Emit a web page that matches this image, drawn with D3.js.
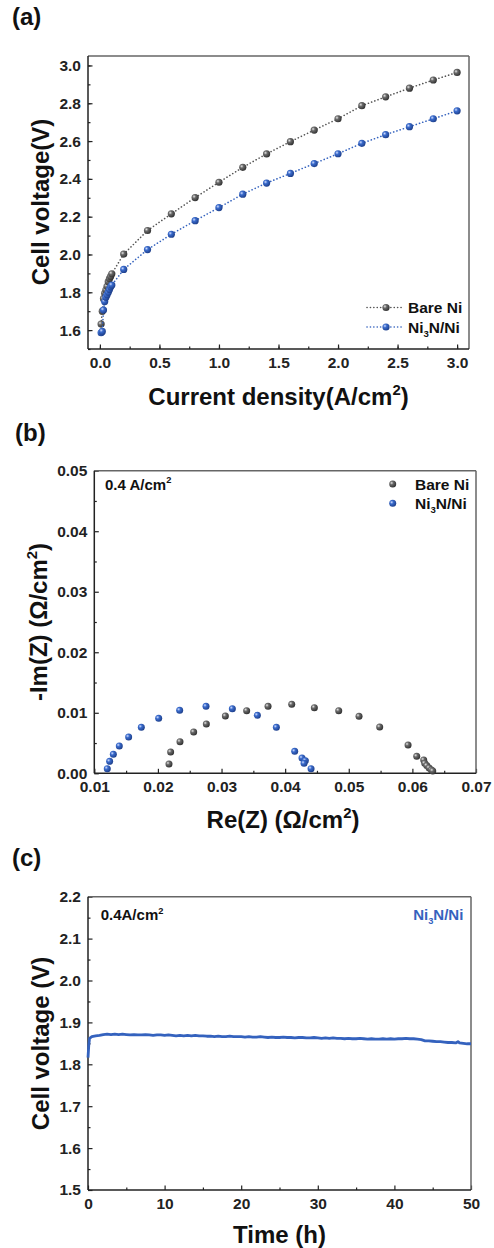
<!DOCTYPE html>
<html>
<head>
<meta charset="utf-8">
<script src="https://cdn.jsdelivr.net/npm/d3@7"></script>
<style>
  body { margin: 0; background: #fff; }
  svg { display: block; font-family: "Liberation Sans", Arial, sans-serif; font-weight: bold; }
  .tick text { font-size: 15.5px; font-weight: bold; fill: #222; }
  .tick line { stroke: #222; stroke-width: 1.2; }
</style>
</head>
<body>
<div id="vis"></div>
<script>
// ---- data (a) polarization curves
const CURRENT = [0.01, 0.02, 0.03, 0.04, 0.05, 0.06, 0.07, 0.08, 0.09, 0.1,
                 0.2, 0.4, 0.6, 0.8, 1.0, 1.2, 1.4, 1.6, 1.8, 2.0, 2.2, 2.4, 2.6, 2.8, 3.0];
const BARE_V = [1.632, 1.700, 1.766, 1.795, 1.812, 1.832, 1.856, 1.872, 1.884, 1.898,
                2.002, 2.127, 2.215, 2.301, 2.382, 2.461, 2.532, 2.597, 2.658, 2.718, 2.787, 2.834, 2.880, 2.923, 2.963];
const NI3N_V = [1.586, 1.593, 1.706, 1.751, 1.774, 1.787, 1.800, 1.815, 1.829, 1.838,
                1.921, 2.026, 2.107, 2.179, 2.248, 2.319, 2.378, 2.429, 2.481, 2.533, 2.588, 2.634, 2.676, 2.718, 2.760];

// ---- data (b) impedance at 0.4 A/cm2
const EIS_BARE_RE = [0.02174, 0.02200, 0.02347, 0.02562, 0.02761, 0.03060, 0.03395, 0.03731, 0.04103, 0.04459,
                     0.04842, 0.05161, 0.05486, 0.05932, 0.06068, 0.06178, 0.06194, 0.06226, 0.06263, 0.06299, 0.06320];
const EIS_BARE_IM = [0.00154, 0.00352, 0.00523, 0.00683, 0.00815, 0.00947, 0.01035, 0.01107, 0.01140, 0.01085,
                     0.01035, 0.00942, 0.00765, 0.00468, 0.00281, 0.00220, 0.00165, 0.00127, 0.00088, 0.00055, 0.00039];
const EIS_NI3N_RE = [0.01204, 0.01241, 0.01299, 0.01393, 0.01540, 0.01739, 0.02012, 0.02342, 0.02756, 0.03170,
                     0.03563, 0.03862, 0.04150, 0.04265, 0.04318, 0.04297, 0.04407];
const EIS_NI3N_IM = [0.00077, 0.00198, 0.00314, 0.00452, 0.00600, 0.00760, 0.00909, 0.01041, 0.01107, 0.01068,
                     0.00958, 0.00760, 0.00363, 0.00253, 0.00209, 0.00165, 0.00077];

// ---- data (c) stability test
const TIME_H = [0, 0.1, 0.2, 0.5, 1.0, 1.5, 2.0, 2.5, 3.0, 3.5, 4.0, 4.5, 5.0, 5.5, 6.0, 6.5, 7.0, 7.5, 8.0, 8.5, 9.0, 9.5,
  10.0, 10.5, 11.0, 11.5, 12.0, 12.5, 13.0, 13.5, 14.0, 14.5, 15.0, 15.5, 16.0, 16.5, 17.0, 17.5, 18.0, 18.5, 19.0, 19.5,
  20.0, 20.5, 21.0, 21.5, 22.0, 22.5, 23.0, 23.5, 24.0, 24.5, 25.0, 25.5, 26.0, 26.5, 27.0, 27.5, 28.0, 28.5, 29.0, 29.5,
  30.0, 30.5, 31.0, 31.5, 32.0, 32.5, 33.0, 33.5, 34.0, 34.5, 35.0, 35.5, 36.0, 36.5, 37.0, 37.5, 38.0, 38.5, 39.0, 39.5,
  40.0, 40.5, 41.0, 41.5, 42.0, 42.5, 43.0, 43.5, 44.0, 44.5, 45.0, 45.5, 46.0, 46.5, 47.0, 47.5, 48.0, 48.3, 48.5, 49.0, 49.5, 50.0];
const STAB_V = [1.816, 1.845, 1.862, 1.866, 1.868, 1.869, 1.871, 1.872, 1.871, 1.872, 1.871, 1.872, 1.871, 1.870, 1.871, 1.870, 1.870, 1.871, 1.870, 1.869, 1.870, 1.870,
  1.869, 1.870, 1.869, 1.868, 1.869, 1.868, 1.869, 1.868, 1.869, 1.868, 1.868, 1.867, 1.867, 1.866, 1.867, 1.866, 1.866, 1.867, 1.866, 1.866,
  1.866, 1.865, 1.866, 1.865, 1.865, 1.866, 1.865, 1.864, 1.865, 1.864, 1.864, 1.865, 1.864, 1.864, 1.863, 1.864, 1.864, 1.863, 1.863, 1.864,
  1.863, 1.862, 1.863, 1.862, 1.863, 1.862, 1.862, 1.861, 1.862, 1.861, 1.861, 1.862, 1.861, 1.860, 1.861, 1.860, 1.860, 1.861, 1.860, 1.861,
  1.860, 1.861, 1.861, 1.862, 1.861, 1.861, 1.860, 1.859, 1.856, 1.856, 1.855, 1.854, 1.854, 1.853, 1.852, 1.852, 1.851, 1.854, 1.851, 1.850, 1.849, 1.849];

const TICKS_A_X = [0.0, 0.5, 1.0, 1.5, 2.0, 2.5, 3.0];
const TICKS_A_Y = [1.6, 1.8, 2.0, 2.2, 2.4, 2.6, 2.8, 3.0];
const TICKS_B_X = [0.01, 0.02, 0.03, 0.04, 0.05, 0.06, 0.07];
const TICKS_B_Y = [0.00, 0.01, 0.02, 0.03, 0.04, 0.05];
const TICKS_C_X = [0, 10, 20, 30, 40, 50];
const TICKS_C_Y = [1.5, 1.6, 1.7, 1.8, 1.9, 2.0, 2.1, 2.2];

const GREY = "#555555";
const BLUE = "#3462be";

const svg = d3.select("#vis").append("svg")
  .attr("width", 494)
  .attr("height", 1248);

// sphere-like gradients for the markers
const defs = svg.append("defs");
function sphere(id, light, mid, dark) {
  const g = defs.append("radialGradient").attr("id", id)
    .attr("cx", "35%").attr("cy", "35%").attr("r", "70%");
  g.append("stop").attr("offset", "0%").attr("stop-color", light);
  g.append("stop").attr("offset", "35%").attr("stop-color", mid);
  g.append("stop").attr("offset", "100%").attr("stop-color", dark);
}
sphere("ballGrey", "#e6e6e6", "#6a6a6a", "#2e2e2e");
sphere("ballBlue", "#d0ddff", "#3a6bcc", "#1c3d88");

// draws frame + inward major/minor ticks, returns scales
function panel(box, xDom, yDom, xTicks, yTicks, xMinor, yMinor, xFmt, yFmt) {
  const x = d3.scaleLinear().domain(xDom).range([box.left, box.right]);
  const y = d3.scaleLinear().domain(yDom).range([box.bottom, box.top]);

  svg.append("g")
    .attr("transform", "translate(0," + box.bottom + ")")
    .call(d3.axisBottom(x).tickValues(xMinor).tickSize(-2.5).tickFormat(""))
    .call(g => g.select(".domain").remove());
  svg.append("g")
    .attr("transform", "translate(" + box.left + ",0)")
    .call(d3.axisLeft(y).tickValues(yMinor).tickSize(-2.5).tickFormat(""))
    .call(g => g.select(".domain").remove());

  svg.append("g")
    .attr("transform", "translate(0," + box.bottom + ")")
    .call(d3.axisBottom(x).tickValues(xTicks).tickSize(-4.5).tickPadding(8).tickFormat(xFmt))
    .call(g => g.select(".domain").remove())
    .attr("font-family", null).attr("font-size", null);
  svg.append("g")
    .attr("transform", "translate(" + box.left + ",0)")
    .call(d3.axisLeft(y).tickValues(yTicks).tickSize(-4.5).tickPadding(7).tickFormat(yFmt))
    .call(g => g.select(".domain").remove())
    .attr("font-family", null).attr("font-size", null);

  // frame: darker left/bottom, lighter top/right
  svg.append("line").attr("x1", box.left).attr("x2", box.right).attr("y1", box.top).attr("y2", box.top)
    .attr("stroke", "#666").attr("stroke-width", 1.5);
  svg.append("line").attr("x1", box.right).attr("x2", box.right).attr("y1", box.top).attr("y2", box.bottom)
    .attr("stroke", "#666").attr("stroke-width", 1.5);
  svg.append("line").attr("x1", box.left).attr("x2", box.right).attr("y1", box.bottom).attr("y2", box.bottom)
    .attr("stroke", "#222").attr("stroke-width", 1.5);
  svg.append("line").attr("x1", box.left).attr("x2", box.left).attr("y1", box.top).attr("y2", box.bottom)
    .attr("stroke", "#222").attr("stroke-width", 1.5);
  return {x, y};
}

function label(txt, x, y) {
  svg.append("text").attr("x", x).attr("y", y)
    .style("font-size", "24px").attr("fill", "#111").text(txt);
}

// rich text: parts = [[text, "n"|"sup"|"sub"], ...]
function rich(parent, parts, size) {
  let shift = 0;
  parts.forEach(([t, kind]) => {
    const s = parent.append("tspan").text(t);
    let target = 0;
    if (kind === "sup") { target = -size * 0.42; s.style("font-size", (size * 0.62) + "px"); }
    if (kind === "sub") { target = size * 0.28; s.style("font-size", (size * 0.62) + "px"); }
    s.attr("dy", target - shift);
    shift = target;
  });
}

function xTitle(parts, cx, y) {
  const t = svg.append("text").attr("x", cx).attr("y", y).attr("text-anchor", "middle")
    .style("font-size", "24px").attr("fill", "#111");
  rich(t, parts, 24);
}
function yTitle(parts, x, cy) {
  const t = svg.append("text").attr("text-anchor", "middle")
    .attr("transform", "translate(" + x + "," + cy + ") rotate(-90)")
    .style("font-size", "24px").attr("fill", "#111");
  rich(t, parts, 24);
}

const fmt1 = d3.format(".1f");
const fmt2 = d3.format(".2f");
const fmt0 = d3.format("d");

// ======================= (a)
label("(a)", 12, 25);
const A = panel({left: 88, right: 469, top: 56, bottom: 349},
  [-0.1, 3.1], [1.5, 3.05], TICKS_A_X, TICKS_A_Y,
  d3.range(0, 3.01, 0.25), d3.range(1.5, 3.05, 0.1), fmt1, fmt1);

const lineA = d3.line().x((d, i) => A.x(CURRENT[i])).y(d => A.y(d));
[[BARE_V, GREY, "ballGrey"], [NI3N_V, BLUE, "ballBlue"]].forEach(([vals, col, ball]) => {
  svg.append("path").datum(vals)
    .attr("d", lineA)
    .attr("fill", "none").attr("stroke", col).attr("stroke-width", 1.6)
    .attr("stroke-linecap", "round").attr("stroke-dasharray", "0.1,3.3");
  svg.selectAll(null).data(vals).enter().append("circle")
    .attr("cx", (d, i) => A.x(CURRENT[i]))
    .attr("cy", d => A.y(d))
    .attr("r", 3.6)
    .attr("fill", "url(#" + ball + ")");
});

// legend (a)
[[307.5, GREY, "ballGrey", [["Bare Ni", "n"]]],
 [327, BLUE, "ballBlue", [["Ni", "n"], ["3", "sub"], ["N/Ni", "n"]]]].forEach(([ly, col, ball, parts]) => {
  svg.append("line").attr("x1", 367).attr("x2", 402).attr("y1", ly).attr("y2", ly)
    .attr("stroke", col).attr("stroke-width", 1.6)
    .attr("stroke-linecap", "round").attr("stroke-dasharray", "0.1,3.3");
  svg.append("circle").attr("cx", 386).attr("cy", ly).attr("r", 3.6).attr("fill", "url(#" + ball + ")");
  const t = svg.append("text").attr("x", 408).attr("y", ly + 5.5).style("font-size", "15.5px").attr("fill", "#111");
  rich(t, parts, 15.5);
});

yTitle([["Cell voltage(V)", "n"]], 48.5, 202);
xTitle([["Current density(A/cm", "n"], ["2", "sup"], [")", "n"]], 278.5, 405);

// ======================= (b)
label("(b)", 15, 441);
const B = panel({left: 94.3, right: 476, top: 470.7, bottom: 773.3},
  [0.01, 0.07], [0, 0.05], TICKS_B_X, TICKS_B_Y,
  d3.range(0.015, 0.07, 0.01), d3.range(0.005, 0.05, 0.01), fmt2, fmt2);

[[EIS_BARE_RE, EIS_BARE_IM, "ballGrey"], [EIS_NI3N_RE, EIS_NI3N_IM, "ballBlue"]].forEach(([re, im, ball]) => {
  svg.selectAll(null).data(re).enter().append("circle")
    .attr("cx", d => B.x(d))
    .attr("cy", (d, i) => B.y(im[i]))
    .attr("r", 3.5)
    .attr("fill", "url(#" + ball + ")");
});

const annB = svg.append("text").attr("x", 105).attr("y", 489.5).style("font-size", "15px").attr("fill", "#111");
rich(annB, [["0.4 A/cm", "n"], ["2", "sup"]], 15);

[[484, "ballGrey", [["Bare Ni", "n"]]],
 [503.3, "ballBlue", [["Ni", "n"], ["3", "sub"], ["N/Ni", "n"]]]].forEach(([ly, ball, parts]) => {
  svg.append("circle").attr("cx", 392.7).attr("cy", ly).attr("r", 3.5).attr("fill", "url(#" + ball + ")");
  const t = svg.append("text").attr("x", 415).attr("y", ly + 5.5).style("font-size", "15.5px").attr("fill", "#111");
  rich(t, parts, 15.5);
});

yTitle([["-Im(Z) (Ω/cm", "n"], ["2", "sup"], [")", "n"]], 47, 622);
xTitle([["Re(Z) (Ω/cm", "n"], ["2", "sup"], [")", "n"]], 283, 828);

// ======================= (c)
label("(c)", 12, 866);
const C = panel({left: 88, right: 471, top: 896.7, bottom: 1190},
  [0, 50], [1.5, 2.2], TICKS_C_X, TICKS_C_Y,
  d3.range(5, 50, 10), d3.range(1.55, 2.2, 0.1), fmt0, fmt1);

svg.append("path").datum(STAB_V)
  .attr("d", d3.line().x((d, i) => C.x(TIME_H[i])).y(d => C.y(d)))
  .attr("fill", "none").attr("stroke", BLUE).attr("stroke-width", 2.8)
  .attr("stroke-linejoin", "round");

const annC = svg.append("text").attr("x", 100.7).attr("y", 920).style("font-size", "15px").attr("fill", "#111");
rich(annC, [["0.4A/cm", "n"], ["2", "sup"]], 15);
const annC2 = svg.append("text").attr("x", 463.3).attr("y", 920).attr("text-anchor", "end")
  .style("font-size", "15px").attr("fill", BLUE);
rich(annC2, [["Ni", "n"], ["3", "sub"], ["N/Ni", "n"]], 15);

yTitle([["Cell voltage (V)", "n"]], 48.5, 1043.5);
xTitle([["Time (h)", "n"]], 279.5, 1243);
</script>
</body>
</html>
